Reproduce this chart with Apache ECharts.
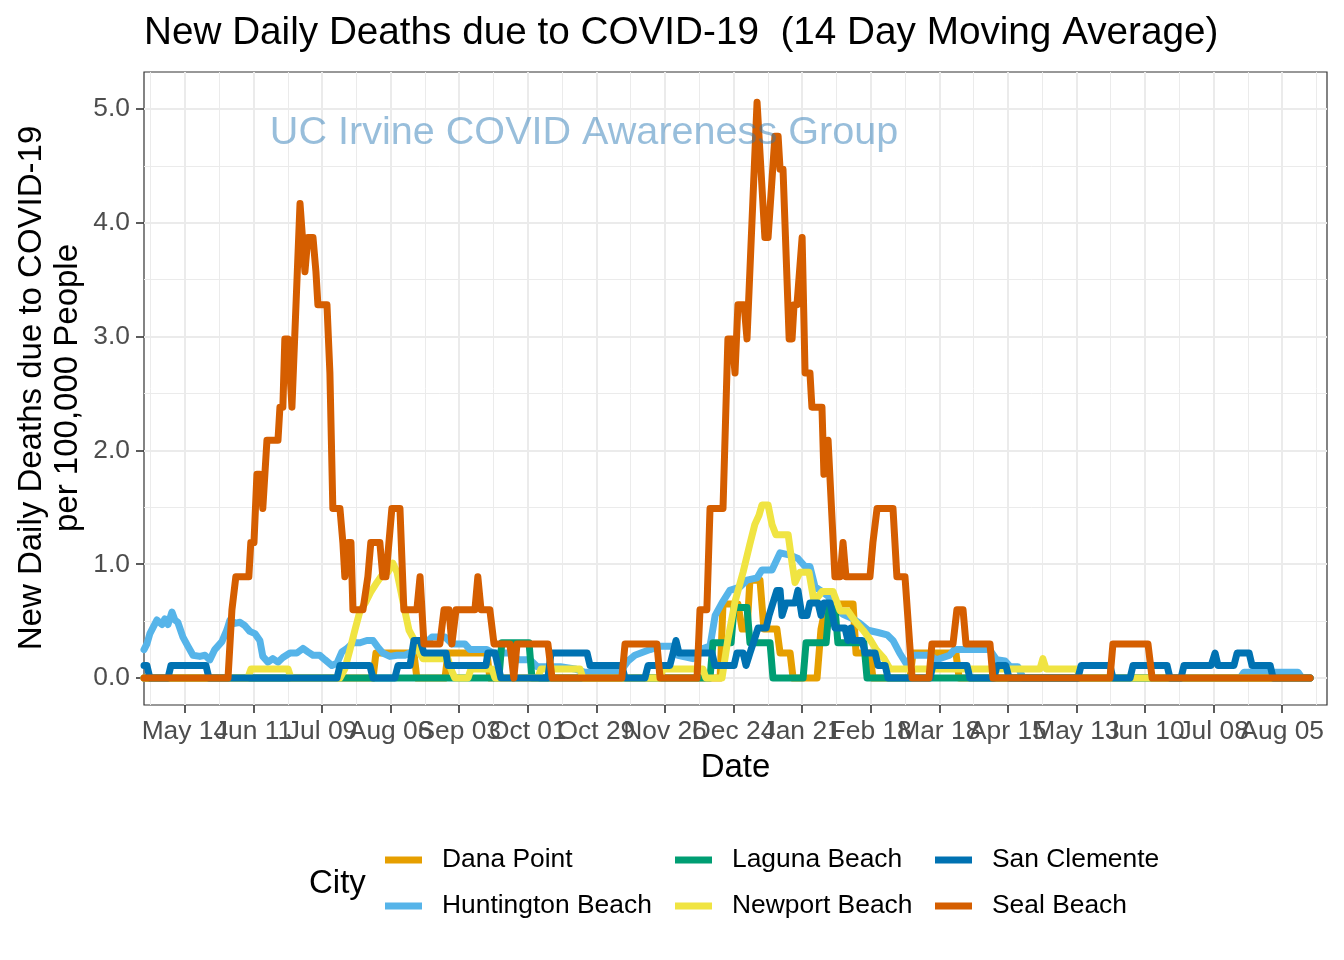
<!DOCTYPE html>
<html><head><meta charset="utf-8">
<script src="https://cdn.jsdelivr.net/npm/echarts@6/dist/echarts.min.js"></script>
<style>html,body{margin:0;padding:0;background:#fff}#c{width:1344px;height:960px}</style>
</head><body><div id="c"></div>
<script>
// x values are days since 2020-05-14
const xTickDays = [0,28,56,84,112,140,168,196,224,252,280,308,336,364,392,420,448];
const xTickLabels = ['May 14','Jun 11','Jul 09','Aug 06','Sep 03','Oct 01','Oct 29','Nov 26','Dec 24','Jan 21','Feb 18','Mar 18','Apr 15','May 13','Jun 10','Jul 08','Aug 05'];
const yTicks = [0,1,2,3,4,5];
const cities = ['Dana Point','Huntington Beach','Laguna Beach','Newport Beach','San Clemente','Seal Beach'];
const cityColors = ['#E69F00','#56B4E9','#009E73','#F0E442','#0072B2','#D55E00'];

const danaPoint = [[-16.7,0],[76.8,0],[78.0,0.22],[93.5,0.22],[94.7,0],[106.2,0],[107.4,0.22],[123.3,0.22],[124.5,0],[218.5,0],[219.7,0.65],[225.8,0.65],[227.5,0.43],[229.5,0.43],[230.7,0.86],[234.8,0.86],[236.4,0.43],[241.7,0.43],[243.0,0.22],[247.1,0.22],[248.3,0],[258.1,0],[259.7,0.43],[261.8,0.65],[272.8,0.65],[274.0,0.22],[279.7,0.22],[280.9,0],[296.0,0],[297.3,0.22],[314.8,0.22],[316.1,0],[459.4,0]];

const huntingtonBeach = [[-16.7,0.25],[-15.5,0.3],[-14.3,0.39],[-11.4,0.51],[-9.4,0.47],[-8.2,0.52],[-6.9,0.47],[-5.3,0.58],[-4.1,0.51],[-2.9,0.49],[-0.8,0.36],[1.2,0.28],[3.3,0.2],[6.1,0.19],[8.2,0.2],[10.2,0.16],[12.2,0.25],[15.1,0.32],[17.1,0.42],[18.4,0.51],[20.4,0.48],[22.5,0.49],[24.5,0.46],[26.5,0.41],[28.6,0.39],[30.6,0.33],[31.8,0.19],[33.9,0.14],[35.9,0.17],[38.0,0.14],[40.0,0.18],[42.9,0.22],[45.7,0.22],[48.2,0.26],[50.2,0.23],[52.3,0.2],[55.1,0.2],[57.2,0.16],[60.0,0.11],[62.1,0.13],[64.1,0.23],[66.2,0.26],[68.6,0.31],[71.5,0.31],[74.3,0.33],[76.8,0.33],[78.8,0.27],[80.8,0.22],[83.7,0.19],[86.6,0.2],[89.8,0.2],[93.9,0.24],[98.0,0.3],[100.9,0.36],[106.2,0.36],[109.0,0.3],[114.3,0.3],[116.4,0.25],[123.3,0.25],[125.8,0.22],[133.9,0.22],[136.0,0.16],[140.9,0.16],[143.8,0.1],[153.3,0.1],[159.2,0.08],[163.3,0.05],[177.6,0.05],[180.9,0.15],[183.7,0.2],[189.9,0.25],[194.0,0.28],[199.3,0.28],[201.3,0.2],[207.4,0.17],[210.3,0.25],[214.4,0.28],[216.5,0.55],[219.3,0.66],[222.5,0.77],[226.6,0.8],[229.5,0.86],[233.6,0.88],[235.6,0.95],[239.7,0.95],[243.0,1.1],[247.1,1.08],[250.3,1.05],[253.2,0.98],[255.2,0.98],[257.3,0.8],[260.1,0.76],[262.6,0.72],[265.4,0.62],[268.7,0.56],[272.8,0.52],[275.6,0.48],[278.9,0.42],[283.0,0.4],[286.7,0.38],[289.1,0.33],[291.8,0.22],[294.7,0.12],[297.1,0.2],[304.1,0.2],[306.9,0.16],[312.2,0.2],[314.2,0.25],[328.5,0.25],[331.4,0.16],[334.8,0.15],[336.9,0.1],[340.1,0.1],[342.2,0],[430.8,0],[432.4,0.05],[454.5,0.05],[456.1,0],[459.4,0]];

const lagunaBeach = [[-16.7,0],[128.2,0],[129.4,0.31],[140.5,0.31],[141.7,0],[214.4,0],[215.6,0.31],[223.0,0.31],[224.2,0.62],[229.5,0.62],[230.7,0.31],[238.9,0.31],[240.1,0],[252.4,0],[253.6,0.31],[261.8,0.31],[263.0,0.62],[265.4,0.62],[266.6,0.31],[277.2,0.31],[278.5,0],[459.4,0]];

const newportBeach = [[-16.7,0],[25.7,0],[27.0,0.08],[42.1,0.08],[43.3,0],[63.3,0],[65.3,0.08],[67.4,0.25],[69.4,0.42],[71.5,0.59],[73.9,0.67],[76.0,0.76],[78.4,0.84],[81.3,0.93],[82.9,0.93],[84.9,1.01],[86.6,0.93],[88.2,0.76],[89.8,0.59],[91.5,0.42],[93.5,0.34],[95.1,0.25],[97.2,0.17],[107.4,0.17],[108.6,0.08],[110.2,0],[115.6,0],[116.8,0.08],[125.4,0.08],[126.6,0],[144.1,0],[145.4,0.08],[161.3,0.08],[162.5,0],[194.0,0],[195.2,0.08],[211.5,0.08],[212.7,0],[219.3,0],[221.7,0.34],[224.6,0.67],[227.9,0.93],[230.7,1.18],[232.7,1.35],[234.4,1.43],[235.6,1.52],[238.1,1.52],[239.7,1.35],[241.3,1.26],[246.3,1.26],[247.9,1.01],[249.1,0.84],[251.1,0.93],[254.8,0.93],[256.9,0.67],[260.1,0.76],[264.6,0.76],[267.5,0.59],[270.7,0.59],[273.6,0.5],[276.9,0.42],[279.7,0.34],[282.2,0.25],[285.5,0.17],[287.9,0.08],[349.1,0.08],[350.3,0.17],[351.6,0.08],[364.2,0.08],[365.5,0],[459.4,0]];

const sanClemente = [[-16.7,0.11],[-15.5,0.11],[-14.3,0],[-6.9,0],[-5.7,0.11],[8.6,0.11],[9.8,0],[62.1,0],[63.3,0.11],[75.5,0.11],[76.8,0],[85.7,0],[87.0,0.11],[91.9,0.11],[93.5,0.33],[96.0,0.33],[97.6,0.22],[106.6,0.22],[107.4,0.11],[122.9,0.11],[123.7,0.22],[126.6,0.22],[127.8,0.11],[129.0,0],[148.2,0],[149.5,0.22],[164.2,0.22],[165.4,0.11],[178.4,0.11],[179.7,0],[187.8,0],[189.1,0.11],[198.0,0.11],[199.3,0.22],[200.5,0.33],[201.7,0.22],[215.2,0.22],[216.4,0.11],[224.2,0.11],[225.4,0.22],[227.9,0.22],[229.1,0.11],[230.7,0.22],[232.4,0.33],[234.0,0.44],[237.3,0.44],[238.5,0.55],[240.1,0.66],[241.7,0.77],[243.0,0.77],[243.8,0.55],[245.4,0.66],[249.1,0.66],[250.3,0.77],[251.9,0.55],[254.0,0.55],[255.2,0.66],[258.5,0.66],[259.7,0.55],[260.9,0.66],[263.4,0.66],[265.4,0.44],[269.5,0.44],[270.7,0.33],[271.9,0.44],[272.8,0.33],[276.5,0.33],[277.7,0.22],[281.8,0.22],[283.0,0.11],[285.9,0.11],[287.1,0],[304.2,0],[305.4,0.11],[319.3,0.11],[320.5,0],[330.3,0],[331.6,0.11],[335.2,0.11],[336.5,0],[364.6,0],[365.9,0.11],[377.7,0.11],[378.9,0],[385.9,0],[387.1,0.11],[401.0,0.11],[402.2,0],[406.7,0],[407.9,0.11],[419.0,0.11],[420.6,0.22],[421.8,0.11],[428.3,0.11],[429.6,0.22],[434.5,0.22],[435.7,0.11],[443.1,0.11],[444.3,0],[459.4,0]];

const sealBeach = [[-16.7,0],[17.6,0],[19.2,0.6],[20.8,0.89],[26.1,0.89],[26.9,1.19],[28.2,1.19],[29.4,1.79],[30.6,1.79],[31.8,1.49],[33.5,2.09],[38.0,2.09],[38.8,2.38],[40.0,2.38],[40.8,2.98],[42.1,2.98],[43.7,2.38],[47.0,4.17],[49.0,3.57],[50.2,3.87],[52.3,3.87],[53.5,3.57],[54.3,3.28],[58.0,3.28],[59.2,2.68],[60.4,1.49],[63.3,1.49],[64.5,1.19],[65.3,0.89],[66.6,1.19],[67.8,1.19],[68.6,0.6],[72.7,0.6],[74.7,0.89],[75.9,1.19],[79.6,1.19],[80.8,0.89],[82.1,0.89],[83.3,1.19],[84.5,1.49],[87.8,1.49],[89.4,0.6],[94.7,0.6],[96.0,0.89],[97.6,0.3],[104.1,0.3],[105.8,0.6],[107.8,0.6],[109.0,0.3],[110.7,0.6],[118.4,0.6],[119.6,0.89],[120.9,0.6],[124.5,0.6],[126.2,0.3],[132.7,0.3],[134.3,0],[135.6,0.3],[148.2,0.3],[149.9,0],[178.4,0],[179.7,0.3],[192.7,0.3],[194.0,0],[209.1,0],[210.3,0.6],[213.1,0.6],[214.4,1.49],[219.7,1.49],[221.7,2.98],[223.4,2.98],[224.6,2.68],[225.8,3.28],[228.3,3.28],[229.5,2.98],[233.6,5.06],[236.8,3.87],[238.1,3.87],[240.9,4.76],[242.2,4.76],[243.0,4.47],[244.2,4.47],[246.7,2.98],[247.9,2.98],[248.7,3.28],[249.9,3.28],[252.0,3.87],[253.2,2.68],[255.2,2.68],[256.0,2.38],[260.1,2.38],[260.9,1.79],[262.6,2.09],[263.4,2.09],[265.4,0.89],[267.5,0.89],[268.7,1.19],[269.9,0.89],[279.7,0.89],[280.9,1.19],[282.6,1.49],[289.1,1.49],[290.7,0.89],[294.0,0.89],[296.9,0],[303.8,0],[305.0,0.3],[313.6,0.3],[315.2,0.6],[317.7,0.6],[318.9,0.3],[328.7,0.3],[329.9,0],[377.7,0],[378.9,0.3],[393.2,0.3],[394.9,0],[459.4,0]];

const cityData = [danaPoint, huntingtonBeach, lagunaBeach, newportBeach, sanClemente, sealBeach];

const FONT = '"Liberation Sans", Arial, Helvetica, sans-serif';
const xMin = -16.7, xMax = 466.3, yMin = -0.237, yMax = 5.325;
const xMinor = xTickDays.map(d => d - 14).concat([xTickDays[xTickDays.length-1] + 14]);
const yMinor = [0.5,1.5,2.5,3.5,4.5];
// labels split over two overlaid axes so none is dropped as "overlapping"
const xEvenDays = xTickDays.filter((d, i) => i % 2 === 0);
const xOddDays = xTickDays.filter((d, i) => i % 2 === 1);
const xLabelFmt = v => { const k = xTickDays.indexOf(v); return k >= 0 ? xTickLabels[k] : ''; };

const chart = echarts.init(document.getElementById('c'), null, {renderer: 'canvas'});

const series = cities.map((name, i) => ({
  name, type: 'line', xAxisIndex: 0, yAxisIndex: 0,
  data: cityData[i], showSymbol: false, symbol: 'none', smooth: false,
  color: cityColors[i], clip: true, z: 3 + i,
  lineStyle: {width: 7, color: cityColors[i], cap: 'round', join: 'round'},
  emphasis: {disabled: true}, animation: false
}));

const legendCommon = {
  orient: 'vertical', padding: 0, icon: 'rect', itemWidth: 37, itemHeight: 7, itemGap: 16,
  selectedMode: false, top: 845,
  textStyle: {fontSize: 26.4, color: '#000', fontFamily: FONT, lineHeight: 30, padding: [0,0,0,15]}
};

const labelStyle = {show: true, margin: 14, fontSize: 26.4, color: '#4D4D4D', fontFamily: FONT, hideOverlap: false,
  showMinLabel: true, showMaxLabel: true, formatter: xLabelFmt};

chart.setOption({
  animation: false,
  backgroundColor: '#fff',
  textStyle: {fontFamily: FONT},
  grid: {left: 144, top: 72, width: 1183, height: 633, show: true, borderColor: '#333333', borderWidth: 1.2, backgroundColor: 'transparent', containLabel: false},
  xAxis: [
    {type: 'value', min: xMin, max: xMax, position: 'bottom',
     axisLine: {show: false, onZero: false},
     axisTick: {show: true, length: 8, customValues: xTickDays, lineStyle: {color: '#333333', width: 1.6}},
     axisLabel: Object.assign({customValues: xEvenDays}, labelStyle),
     splitLine: {show: true, lineStyle: {color: '#EBEBEB', width: 2}}, z: 1},
    {type: 'value', min: xMin, max: xMax, position: 'bottom', offset: 0,
     axisLine: {show: false, onZero: false},
     axisTick: {show: false, length: 8, customValues: xOddDays},
     axisLabel: Object.assign({customValues: xOddDays}, labelStyle),
     splitLine: {show: false}, z: 1},
    {type: 'value', min: xMin, max: xMax, position: 'top', show: true,
     axisLine: {show: false, onZero: false}, axisLabel: {show: false},
     axisTick: {show: false, customValues: xMinor},
     splitLine: {show: true, lineStyle: {color: '#EBEBEB', width: 1}}, z: 0}
  ],
  yAxis: [
    {type: 'value', min: yMin, max: yMax, position: 'left',
     axisLine: {show: false, onZero: false},
     axisTick: {show: true, length: 8, customValues: yTicks, lineStyle: {color: '#333333', width: 1.6}},
     axisLabel: {show: true, customValues: yTicks, margin: 14, fontSize: 26.4, color: '#4D4D4D', fontFamily: FONT,
       showMinLabel: true, showMaxLabel: true,
       formatter: v => v.toFixed(1)},
     splitLine: {show: true, lineStyle: {color: '#EBEBEB', width: 2}}, z: 1},
    {type: 'value', min: yMin, max: yMax, position: 'right', show: true,
     axisLine: {show: false, onZero: false}, axisLabel: {show: false},
     axisTick: {show: false, customValues: yMinor},
     splitLine: {show: true, lineStyle: {color: '#EBEBEB', width: 1}}, z: 0}
  ],
  legend: [
    Object.assign({left: 385, data: [cities[0], cities[1]]}, legendCommon),
    Object.assign({left: 675, data: [cities[2], cities[3]]}, legendCommon),
    Object.assign({left: 935, data: [cities[4], cities[5]]}, legendCommon)
  ],
  graphic: [
    {type: 'text', x: 144, y: 33, z: 100,
     style: {text: 'New Daily Deaths due to COVID-19  (14 Day Moving Average)', fontSize: 38.7, fontFamily: FONT, fill: '#000', align: 'left', verticalAlign: 'middle'}},
    {type: 'text', x: 584, y: 133, z: 100,
     style: {text: 'UC Irvine COVID Awareness Group', fontSize: 39.6, fontFamily: FONT, fill: 'rgba(40,120,180,0.48)', align: 'center', verticalAlign: 'middle'}},
    {type: 'text', x: 735.5, y: 768, z: 100,
     style: {text: 'Date', fontSize: 33, fontFamily: FONT, fill: '#000', align: 'center', verticalAlign: 'middle'}},
    {type: 'text', x: 50, y: 388, rotation: Math.PI / 2, z: 100,
     style: {text: 'New Daily Deaths due to COVID-19\nper 100,000 People', fontSize: 33, lineHeight: 36, fontFamily: FONT, fill: '#000', align: 'center', verticalAlign: 'middle'}},
    {type: 'text', x: 309, y: 884, z: 100,
     style: {text: 'City', fontSize: 33, fontFamily: FONT, fill: '#000', align: 'left', verticalAlign: 'middle'}}
  ],
  series
});
</script>
</body></html>
